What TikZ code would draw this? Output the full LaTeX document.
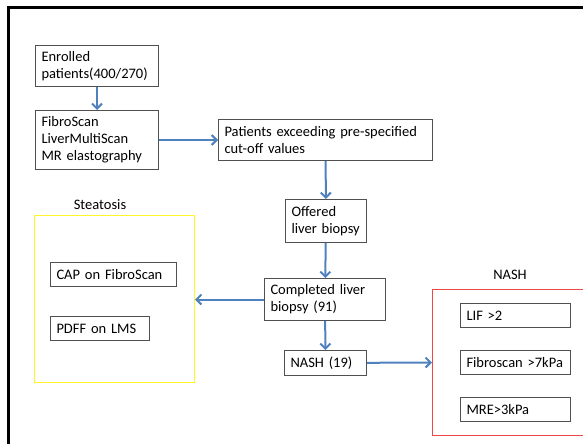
\documentclass[tikz,border=0pt]{standalone}
\usepackage{fontspec}
\setmainfont{Carlito}
\usetikzlibrary{arrows.meta}

\definecolor{arrblue}{RGB}{79,129,189}
\definecolor{boxgray}{RGB}{80,80,80}
\definecolor{steatyellow}{RGB}{255,245,40}
\definecolor{nashred}{RGB}{240,70,70}

\begin{document}
\begin{tikzpicture}[x=1pt, y=-1pt,
  box/.style = {draw=boxgray, line width=1pt, anchor=north west, align=left,
                inner xsep=6pt, inner ysep=2pt, font=\fontsize{14.5}{17}\selectfont},
  link/.style = {draw=arrblue, line width=2pt, -{Straight Barb[length=5pt,width=10pt]}},
  caption/.style = {font=\fontsize{14.5}{17}\selectfont}]
				\useasboundingbox (0,0) rectangle (583,444);
				% outer frame, cut at the page edge
				\draw[line width=3pt] (8,444) -- (8,8) -- (583,8);
				% main flow
				\node[box, text width=111pt, minimum height=41pt] (enrol) at (35,45) {Enrolled\\patients(400/270)};
				\node[box, text width=111pt, minimum height=59pt] (scan) at (35,110) {FibroScan\\LiverMultiScan\\MR elastography};
				\node[box, text width=202pt, minimum height=41pt] (exceed) at (218,119) {Patients exceeding pre-specified\\cut-off values};
				\node[box, text width=69pt, minimum height=43pt] (offer) at (285,199) {Offered\\liver biopsy};
				\node[box, text width=109pt, minimum height=42pt] (biopsy) at (264,278) {Completed liver\\biopsy (91)};
				\node[box, text width=70pt, minimum height=25pt] (nash) at (284,350) {NASH (19)};
				% steatosis group
				\node[draw=steatyellow, line width=1pt, anchor=north west, minimum width=160pt, minimum height=167pt] (steat) at (34,215) {};
				\node[caption] (steatlbl) at (100,205) {Steatosis};
				\node[box, text width=114pt, minimum height=24pt] (cap) at (50,262) {CAP on FibroScan};
				\node[box, text width=87pt, minimum height=24pt] (pdff) at (50,316) {PDFF on LMS};
				% NASH group
				\draw[nashred, line width=1pt] (583,289) -- (432,289) -- (432,435) -- (583,435);
				\coordinate (nashin) at (432,362.5);
				\node[caption] (nashlbl) at (510,275) {NASH};
				\node[box, text width=98pt, minimum height=24pt] (lif) at (460,303) {LIF >2};
				\node[box, text width=98pt, minimum height=24pt] (fibro) at (460,350) {Fibroscan >7kPa};
				\node[box, text width=98pt, minimum height=24pt] (mre) at (460,397) {MRE>3kPa};
				% arrows
				\draw[link] (enrol) -- (scan);
				\draw[link] (scan) -- (exceed);
				\draw[link] (exceed) -- (offer);
				\draw[link] (offer) -- (biopsy);
				\draw[link] (biopsy) -- (nash);
				\draw[link] (biopsy.west) -- (biopsy.west -| steat.east);
				\draw[link] (nash) -- (nashin);
			\end{tikzpicture}
\end{document}
